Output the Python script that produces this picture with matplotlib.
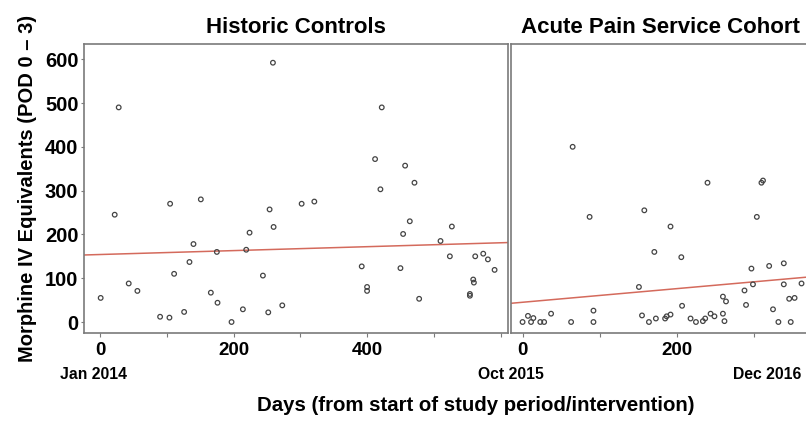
import numpy as np
import matplotlib
matplotlib.use("Agg")
import matplotlib.pyplot as plt

plt.rcParams['font.family'] = ['Liberation Sans', 'DejaVu Sans']
plt.rcParams['font.weight'] = 'bold'

# historic controls (days, morphine IV eq)
hist_days = [28, 259, 422, 412, 457, 471, 420,
             22, 105, 151, 254, 260, 224, 140, 175, 219, 134, 111, 244,
             43, 56, 1, 166, 176, 126, 214, 273, 252, 90, 104, 197,
             302, 321, 464, 527, 454, 510, 524, 562, 574, 581, 591,
             392, 450, 400, 400, 478, 559, 560, 554, 554]
hist_mme = [490, 592, 490, 372, 357, 318, 303,
            245, 270, 280, 257, 217, 204, 178, 160, 165, 137, 110, 106,
            88, 71, 55, 67, 44, 23, 29, 38, 22, 12, 10, 0,
            270, 275, 230, 218, 201, 185, 150, 150, 156, 143, 119,
            127, 123, 80, 71, 53, 97, 90, 64, 60]

# acute pain service cohort
aps_days = [65, 240, 310, 312, 87, 158, 192, 171, 206, 304, 297, 320, 339,
            362, 339, 299, 288, 151, 260, 264, 353, 346, 207, 290, 325,
            92, 37, 7, 14, 0, 11, 23, 28, 63, 92, 155, 164, 173, 185, 187,
            192, 218, 225, 234, 237, 244, 249, 260, 262, 332, 348]
aps_mme = [400, 318, 318, 323, 240, 255, 218, 160, 148, 240, 122, 128, 134,
           88, 86, 86, 72, 80, 58, 47, 55, 53, 37, 39, 29,
           26, 19, 14, 9, 0, 0, 0, 0, 0, 0, 15, 0, 8, 8, 13,
           17, 8, 0, 2, 8, 19, 13, 19, 2, 0, 0]

date_labels = ['Jan 2014', 'Oct 2015', 'Dec 2016']

fig = plt.figure(figsize=(8.06, 4.22), dpi=100)
ax1 = fig.add_axes([0.1042, 0.211, 0.526, 0.685])
ax2 = fig.add_axes([0.634, 0.211, 0.37, 0.685])

red = '#d46a5c'
spine_col = '#7a7a7a'

def panel(ax, x, y, xlim, title):
    x = np.array(x)
    y = np.array(y)
    ax.scatter(x, y, s=11, facecolors='none', edgecolors='#444444', linewidths=0.9, zorder=3)
    b, a = np.polyfit(x, y, 1)
    xx = np.array(xlim)
    ax.plot(xx, a + b * xx, color=red, lw=1.1, zorder=2)
    ax.set_xlim(xlim)
    ax.set_ylim(-25, 635)
    ticks = np.arange(0, xlim[1], 100)
    ax.set_xticks(ticks)
    ax.set_xticklabels([str(v) if v in (0, 200, 400) else '' for v in ticks])
    ax.set_yticks(np.arange(0, 601, 100))
    for s in ax.spines.values():
        s.set_color(spine_col)
        s.set_linewidth(1.2)
    ax.tick_params(axis='x', colors=spine_col, labelcolor='black', labelsize=13.5, length=3, width=0.8)
    ax.tick_params(axis='y', colors=spine_col, labelcolor='black', labelsize=14.5, length=2, width=0.8, pad=2)
    ax.set_title(title, fontsize=16, fontweight='bold', pad=8)

panel(ax1, hist_days, hist_mme, (-24, 611), 'Historic Controls')
panel(ax2, aps_days, aps_mme, (-15, 372), 'Acute Pain Service Cohort')
ax2.tick_params(axis='y', labelleft=False, length=0)

ax1.set_ylabel('Morphine IV Equivalents (POD 0 \u2013 3)', fontsize=14.5, fontweight='bold', labelpad=6)

for xpos, lab in zip([0.116, 0.634, 0.952], date_labels):
    fig.text(xpos, 0.112, lab, fontsize=11.3, fontweight='bold', ha='center', va='center')
fig.text(0.59, 0.04, 'Days (from start of study period/intervention)', fontsize=14.7,
         fontweight='bold', ha='center', va='center')

fig.savefig('out.png', dpi=100)
